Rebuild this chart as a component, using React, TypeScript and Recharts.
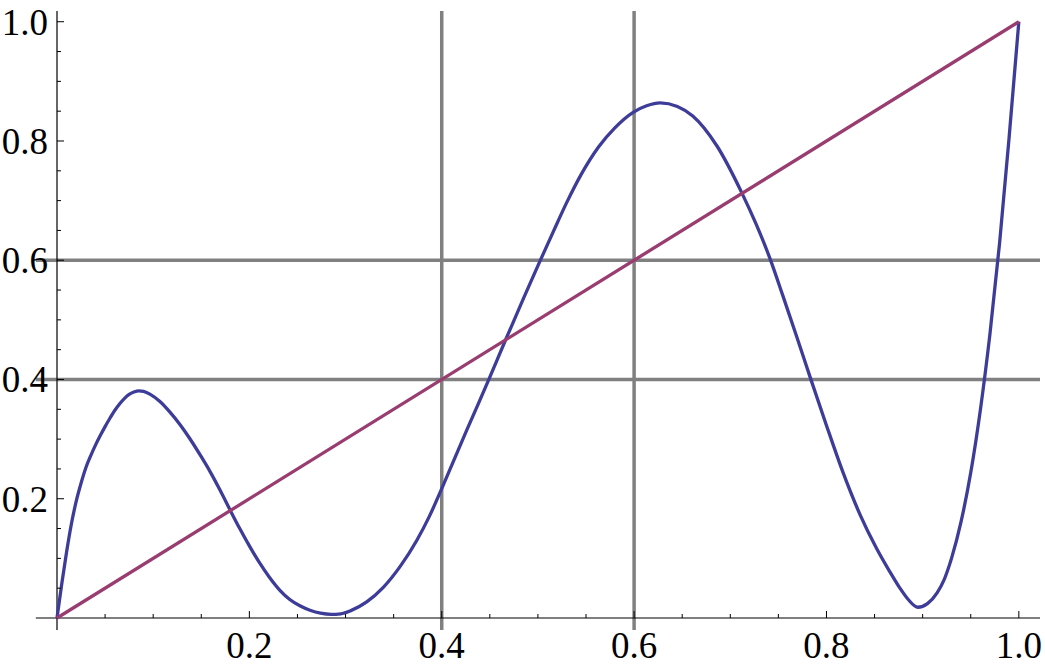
import React from 'react';
import { LineChart, Line, XAxis, YAxis, ReferenceLine } from 'recharts';

// blue curve
const curveX = [
  0, 0.005, 0.01, 0.015, 0.02, 0.025, 0.03, 0.035, 0.04, 0.045,
  0.05, 0.055, 0.06, 0.065, 0.07, 0.075, 0.08, 0.085, 0.09, 0.097,
  0.107, 0.117, 0.128, 0.138, 0.149, 0.159, 0.17, 0.18, 0.19, 0.2,
  0.21, 0.221, 0.232, 0.242, 0.253, 0.263, 0.274, 0.285, 0.295, 0.305,
  0.322, 0.339, 0.357, 0.374, 0.387, 0.4, 0.413, 0.426, 0.438, 0.45,
  0.466, 0.485, 0.502, 0.516, 0.53, 0.545, 0.563, 0.58, 0.599, 0.613,
  0.627, 0.645, 0.661, 0.686, 0.712, 0.727, 0.741, 0.755, 0.769, 0.783,
  0.8, 0.817, 0.835, 0.852, 0.865, 0.876, 0.885, 0.895, 0.905, 0.915,
  0.922, 0.93, 0.94, 0.95, 0.96, 0.97, 0.98, 0.99, 1.0,
];
const curveY = [
  0, 0.058, 0.111, 0.158, 0.196, 0.226, 0.252, 0.272, 0.29, 0.306,
  0.321, 0.335, 0.348, 0.359, 0.368, 0.375, 0.379, 0.381, 0.38, 0.375,
  0.363, 0.346, 0.324, 0.301, 0.273, 0.246, 0.213, 0.181, 0.15, 0.121,
  0.094, 0.068, 0.046, 0.031, 0.02, 0.013, 0.008, 0.006, 0.007, 0.012,
  0.027, 0.051, 0.087, 0.13, 0.17, 0.217, 0.266, 0.315, 0.359, 0.404,
  0.465, 0.536, 0.598, 0.648, 0.697, 0.744, 0.79, 0.822, 0.848, 0.859,
  0.864, 0.858, 0.842, 0.792, 0.713, 0.66, 0.604, 0.539, 0.472, 0.404,
  0.323, 0.245, 0.173, 0.117, 0.08, 0.051, 0.031, 0.018, 0.024, 0.042,
  0.063, 0.1, 0.162, 0.244, 0.349, 0.477, 0.629, 0.808, 1.0,
];

// straight line y = x
const diagonalX = [0, 1];
const diagonalY = [0, 1];

const majorTicks = [0.2, 0.4, 0.6, 0.8, 1.0];
const axisTicks = [
  0.05, 0.1, 0.15, 0.2, 0.25, 0.3, 0.35, 0.4, 0.45, 0.5,
  0.55, 0.6, 0.65, 0.7, 0.75, 0.8, 0.85, 0.9, 0.95, 1.0,
];
const gridX = [0.4, 0.6];
const gridY = [0.4, 0.6];

const X_DOMAIN: [number, number] = [0, 1.022];
const Y_DOMAIN: [number, number] = [0, 1.018];
const X_FRAME: [number, number] = [-0.022, 1.022];
const Y_FRAME: [number, number] = [-0.02, 1.018];

const curveData = curveX.map((x, i) => ({ x, y: curveY[i] }));
const diagonalData = diagonalX.map((x, i) => ({ x, y: diagonalY[i] }));

const labelStyle: React.CSSProperties = {
  fontFamily: "'Liberation Serif', 'DejaVu Serif', serif",
  fontSize: 37,
  fill: '#000',
};

const isMajor = (v: number) => majorTicks.some((t) => Math.abs(t - v) < 1e-6);

function XTick({ x, y, payload }: any) {
  const major = isMajor(payload.value);
  return (
    <g>
      <line x1={x} x2={x} y1={y} y2={y - (major ? 7 : 4)} stroke="#000" strokeWidth={1} />
      {major && (
        <text x={x} y={y + 40} textAnchor="middle" style={labelStyle}>
          {payload.value.toFixed(1)}
        </text>
      )}
    </g>
  );
}

function YTick({ x, y, payload }: any) {
  const major = isMajor(payload.value);
  return (
    <g>
      <line x1={x} x2={x + (major ? 7 : 4)} y1={y} y2={y} stroke="#000" strokeWidth={1} />
      {major && (
        <text x={x - 9} y={y + 13} textAnchor="end" style={labelStyle}>
          {payload.value.toFixed(1)}
        </text>
      )}
    </g>
  );
}

export default function App() {
  return (
    <div style={{ position: 'absolute', left: 0, top: 0, background: '#fff' }}>
      <LineChart width={1045} height={671} margin={{ top: 11, right: 5, bottom: 0, left: 0 }}>
        <XAxis
          type="number"
          dataKey="x"
          domain={X_DOMAIN}
          ticks={axisTicks}
          interval={0}
          height={53}
          axisLine={false}
          tickLine={false}
          tickSize={0}
          tickMargin={0}
          tick={<XTick />}
        />
        <YAxis
          type="number"
          dataKey="y"
          domain={Y_DOMAIN}
          ticks={axisTicks}
          interval={0}
          width={57}
          axisLine={false}
          tickLine={false}
          tickSize={0}
          tickMargin={0}
          tick={<YTick />}
        />
        {gridX.map((g) => (
          <ReferenceLine
            key={`gx-${g}`}
            segment={[{ x: g, y: Y_FRAME[0] }, { x: g, y: Y_FRAME[1] }]}
            ifOverflow="visible"
            stroke="#808080"
            strokeWidth={3.5}
          />
        ))}
        {gridY.map((g) => (
          <ReferenceLine
            key={`gy-${g}`}
            segment={[{ x: X_FRAME[0], y: g }, { x: X_FRAME[1], y: g }]}
            ifOverflow="visible"
            stroke="#808080"
            strokeWidth={3.5}
          />
        ))}
        <ReferenceLine
          segment={[{ x: X_FRAME[0], y: 0 }, { x: X_FRAME[1], y: 0 }]}
          ifOverflow="visible"
          stroke="#000"
          strokeWidth={1.2}
        />
        <ReferenceLine
          segment={[{ x: 0, y: Y_FRAME[0] }, { x: 0, y: Y_FRAME[1] }]}
          ifOverflow="visible"
          stroke="#000"
          strokeWidth={1.2}
        />
        <Line
          data={curveData}
          dataKey="y"
          type="monotone"
          stroke="#3d3d99"
          strokeWidth={3.3}
          dot={false}
          isAnimationActive={false}
        />
        <Line
          data={diagonalData}
          dataKey="y"
          type="linear"
          stroke="#993d71"
          strokeWidth={3.3}
          dot={false}
          isAnimationActive={false}
        />
      </LineChart>
    </div>
  );
}
